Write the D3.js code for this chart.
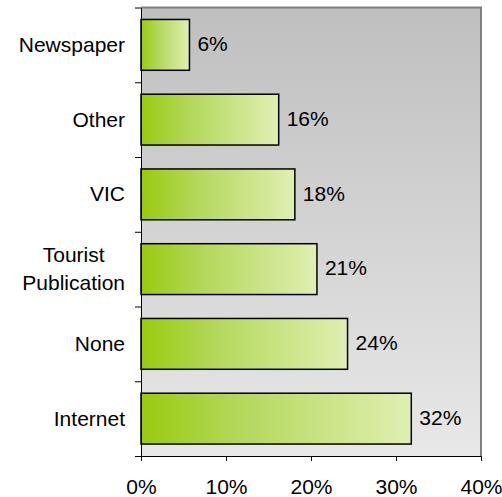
<!DOCTYPE html>
<html>
<head>
<meta charset="utf-8">
<script src="https://cdn.jsdelivr.net/npm/d3@7"></script>
<style>
  html, body { margin: 0; padding: 0; background: #fff; }
  svg { display: block; font-family: "Liberation Sans", Arial, sans-serif; }
</style>
</head>
<body>
<svg id="chart" width="502" height="497"></svg>
<script>
// Information sources used, share of respondents
const categories = ["Newspaper", "Other", "VIC", "Tourist\nPublication", "None", "Internet"];
const shares = [0.057, 0.162, 0.181, 0.207, 0.243, 0.318];
const xTicks = [0, 0.1, 0.2, 0.3, 0.4];

const W = 502, H = 497;
const margin = { top: 7.5, right: 21, bottom: 41, left: 141 };
const iw = W - margin.left - margin.right;
const ih = H - margin.top - margin.bottom;
const fontSize = 21;
const pct = d3.format(".0%");

const svg = d3.select("#chart");
const defs = svg.append("defs");

const bg = defs.append("linearGradient").attr("id", "plotBg")
  .attr("x1", 0).attr("y1", 0).attr("x2", 0).attr("y2", 1);
bg.append("stop").attr("offset", "0%").attr("stop-color", "#bfbfbf");
bg.append("stop").attr("offset", "100%").attr("stop-color", "#e8e8e8");

const barFill = defs.append("linearGradient").attr("id", "barFill")
  .attr("x1", 0).attr("y1", 0).attr("x2", 1).attr("y2", 0);
barFill.append("stop").attr("offset", "0%").attr("stop-color", "#99cb0e");
barFill.append("stop").attr("offset", "35%").attr("stop-color", "#b3d75a");
barFill.append("stop").attr("offset", "100%").attr("stop-color", "#e0efb2");

const g = svg.append("g").attr("transform", `translate(${margin.left},${margin.top})`);

const x = d3.scaleLinear().domain([0, 0.4]).range([0, iw]);
const y = d3.scaleBand().domain(categories).range([0, ih])
  .paddingInner(0.32).paddingOuter(0.16);
const yEdges = d3.scaleLinear().domain([0, categories.length]).range([0, ih]);

// plot area
g.append("rect").attr("width", iw).attr("height", ih).attr("fill", "url(#plotBg)");
g.append("path")
  .attr("d", `M0,0H${iw}V${ih}`)
  .attr("fill", "none").attr("stroke", "#7f7f7f").attr("stroke-width", 2);

// bars
g.selectAll("rect.bar").data(categories).join("rect")
  .attr("class", "bar")
  .attr("x", x(0))
  .attr("y", d => y(d))
  .attr("width", (d, i) => x(shares[i]) - x(0))
  .attr("height", y.bandwidth())
  .attr("fill", "url(#barFill)")
  .attr("stroke", "#000").attr("stroke-width", 1.5);

// value labels
g.selectAll("text.val").data(categories).join("text")
  .attr("class", "val")
  .attr("x", (d, i) => x(shares[i]) + 8)
  .attr("y", d => y(d) + y.bandwidth() / 2)
  .attr("dy", "0.3em")
  .attr("font-size", fontSize).attr("fill", "#000")
  .text((d, i) => pct(shares[i]));

// y axis: line with ticks at category boundaries
const yAxis = g.append("g")
  .call(d3.axisLeft(yEdges).tickValues(d3.range(categories.length + 1))
    .tickFormat("").tickSize(6).tickSizeOuter(0));
yAxis.selectAll("line, path").attr("stroke", "#000");

// category labels
categories.forEach(c => {
  const lines = c.split("\n");
  const cy = y(c) + y.bandwidth() / 2;
  const t = g.append("text").attr("font-size", fontSize).attr("fill", "#000");
  const lh = 28;
  lines.forEach((ln, k) => {
    t.append("tspan").attr("y", cy + (k - (lines.length - 1) / 2) * lh).attr("dy", "0.33em").text(ln);
  });
  if (lines.length > 1) {
    let maxW = 0;
    t.selectAll("tspan").each(function () { maxW = Math.max(maxW, this.getComputedTextLength()); });
    t.attr("text-anchor", "middle");
    t.selectAll("tspan").attr("x", -16 - maxW / 2);
  } else {
    t.attr("text-anchor", "end");
    t.selectAll("tspan").attr("x", -16);
  }
});

// x axis
const xAxis = g.append("g").attr("transform", `translate(0,${ih})`)
  .call(d3.axisBottom(x).tickValues(xTicks).tickFormat(pct).tickSize(5).tickSizeOuter(0).tickPadding(18));
xAxis.selectAll("line, path").attr("stroke", "#000");
xAxis.selectAll("text").attr("font-size", fontSize).attr("fill", "#000")
  .attr("font-family", "Liberation Sans, Arial, sans-serif");
</script>
</body>
</html>
